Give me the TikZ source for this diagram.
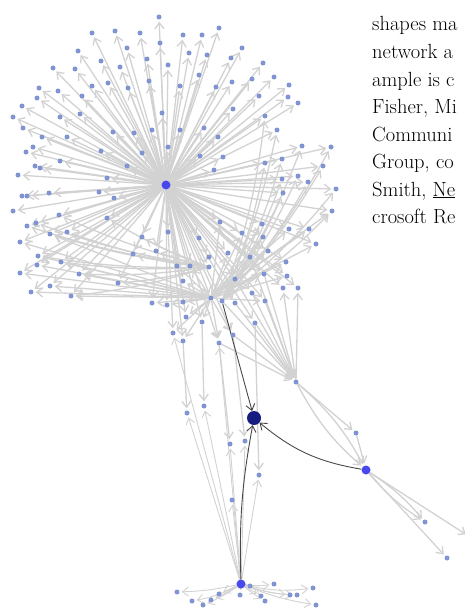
\documentclass[tikz,border=0pt]{standalone}
\usepackage{tikz}
\usetikzlibrary{arrows.meta}
\usetikzlibrary{backgrounds}

\definecolor{linkgray}{RGB}{210,210,210}
\definecolor{leafblue}{RGB}{128,148,212}
\definecolor{hubblue}{RGB}{72,72,236}
\definecolor{navy}{RGB}{22,28,128}
\definecolor{darklink}{RGB}{72,72,72}

\begin{document}
\begin{tikzpicture}[x=1pt,y=-1pt,
    leaf/.style={circle, fill=leafblue, inner sep=0pt, minimum size=5pt},
    hubdot/.style={circle, fill=hubblue, inner sep=0pt, minimum size=9pt},
    link/.style={draw=linkgray, line width=1.3pt, -{Straight Barb[length=6pt,width=9pt]}, shorten >=2pt},
    strong/.style={draw=darklink, line width=0.9pt, -{Straight Barb[length=6pt,width=9pt]}},
    prose/.style={anchor=base west, inner sep=0pt, font=\fontsize{20.5}{27.5}\selectfont}]
  \useasboundingbox (0,0) rectangle (465,610);
  \clip (0,0) rectangle (465,610);

  % text running beside the figure
  \foreach \txt [count=\i] in {shapes ma, network a, ample is c, {Fisher, Mi},
      Communi, {Group, co}, {Smith, \underline{Ne}}, crosoft Re}
    \node[prose] (line\i) at (372, 3.5+27.5*\i) {\txt};

  % the big star
  \node[hubdot] (hub) at (166,185) {};
  \foreach \x/\y [count=\i] in {159/17, 92/33, 115/31, 140/33, 183/35, 202/35, 219/28,
      160/43, 127/48, 78/51, 242/48, 189/53, 207/55, 147/59, 101/61, 231/58, 168/65,
      120/67, 53/68, 75/69, 263/63, 199/75, 274/77, 252/79, 149/81, 108/83, 92/86,
      232/82, 180/86, 289/85, 128/88, 39/88, 58/91, 216/87, 259/96, 37/98, 298/103,
      82/96, 288/97, 22/106, 233/109, 162/113, 265/116, 80/114, 60/117, 13/117,
      23/128, 277/130, 204/128, 180/130, 152/130, 113/132, 134/133, 42/137, 67/137,
      218/137, 33/147, 26/152, 168/147, 101/151, 142/153, 200/156, 223/157, 282/159,
      60/161, 265/163, 35/166, 40/168, 127/166, 214/170, 18/175, 107/178, 282/179,
      298/176, 99/192, 49/193, 22/196, 27/196, 114/198, 283/193, 13/211, 59/215,
      107/218, 36/223, 27/226, 168/232, 220/222, 262/224, 289/229, 67/232, 50/234,
      20/242, 199/238, 142/237, 242/233, 263/237, 38/256, 61/262, 37/265, 79/274,
      20/273, 50/286, 118/283, 31/292, 71/296, 156/251, 133/254, 302/146, 331/147,
      323/166, 308/182, 336/189, 332/211, 309/229, 316/244}
    \node[leaf] (L\i) at (\x,\y) {};

  % lower knot of the star
  \foreach \x/\y [count=\i] in {177/266, 190/266, 209/267, 228/253, 250/257, 268/251,
      286/262, 287/276, 283/288, 298/288, 264/274, 235/279, 183/281, 252/293, 265/301,
      211/298, 222/301, 235/303, 183/302, 167/305, 152/303, 186/317, 202/322, 255/323,
      173/333, 183/341, 219/343, 233/335, 209/257}
    \node[leaf] (C\i) at (\x,\y) {};

  % the chain below
  \node[leaf] (mid) at (296,382) {};
  \node[circle, fill=navy, inner sep=0pt, minimum size=14pt] (focus) at (254,418) {};
  \node[hubdot] (right) at (366,470) {};
  \node[hubdot] (foot) at (241,584) {};
  \node[leaf] (p1) at (356,433) {};
  \node[leaf] (p2) at (425,522) {};
  \node[leaf] (p3) at (447,558) {};
  \node[leaf] (p4) at (470,537) {};
  \node[leaf] (v1) at (187,413) {};
  \node[leaf] (v2) at (204,406) {};
  \node[leaf] (w1) at (230,444) {};
  \node[leaf] (w2) at (245,441) {};
  \node[leaf] (w3) at (259,475) {};
  \node[leaf] (w4) at (232,500) {};
  \foreach \x/\y [count=\i] in {177/592, 192/601, 203/605, 211/600, 219/594, 240/595,
      250/586, 261/596, 265/601, 274/584, 290/595, 297/595, 313/588, 316/605}
    \node[leaf] (b\i) at (\x,\y) {};

  \begin{pgfonlayer}{background}
    \foreach \i in {1,...,115}
      \draw[link] (hub) -- (L\i);
    \foreach \i in {1,...,29}
      \draw[link] (hub) -- (C\i);
    \foreach \i in {97,98,99,100,101,102,104,105,92,91,88,89,96,113,114,115,95,87}
      \draw[link] (C16) -- (L\i);
    \foreach \i in {64,66,73,74,80,108,109,110,111,112,113,48,43}
      \draw[link] (C17) to[bend right=6] (L\i);
    \foreach \i in {82,83,84,85,90,91,94,97,98,100,103,105,106,107}
      \draw[link] (C3) to[bend left=5] (L\i);
    \foreach \i in {1,2,4,5,6,7,8,11,12,13,15,19,20,21,22,23,25,26,27,28}
      \draw[link] (C16) -- (C\i);
    \foreach \i in {14,15,17,18,24,27,28,12,11,5}
      \draw[link] (C\i) -- (mid);
    \draw[link] (mid) -- (C9);
    \draw[link] (mid) -- (C10);
    \draw[link] (mid) -- (p1);
    \draw[link] (p1) -- (right);
    \draw[link] (mid) to[bend left=10] (right);
    \draw[link] (mid) to[bend right=10] (right);
    \draw[link] (right) to[bend left=8] (p2);
    \draw[link] (right) to[bend right=8] (p2);
    \draw[link] (right) -- (p3);
    \draw[link] (right) -- (p4);
    % down from the knot
    \draw[link] (C26) -- (v1);
    \draw[link] (C23) -- (v2);
    \draw[link] (C27) -- (w1);
    \draw[link] (C28) -- (w2);
    \draw[link] (C24) -- (w3);
    \foreach \t in {v1,v2,w1,w2,w3,w4,C25,C27}
      \draw[link, line width=0.9pt] (foot) -- (\t);
    \foreach \i/\b in {1/5,2/8,3/6,4/4,5/0,6/0,7/0,8/0,9/-4,10/-8,11/-6,12/-8,13/-10,14/-6}
      \draw[link, line width=0.9pt] (foot) to[bend left=\b] (b\i);
    % the three dark links
    \draw[strong] (C17) -- (focus);
    \draw[strong] (right) to[bend left=15] (focus);
    \draw[strong] (foot) to[bend left=6] (focus);
  \end{pgfonlayer}
\end{tikzpicture}
\end{document}
